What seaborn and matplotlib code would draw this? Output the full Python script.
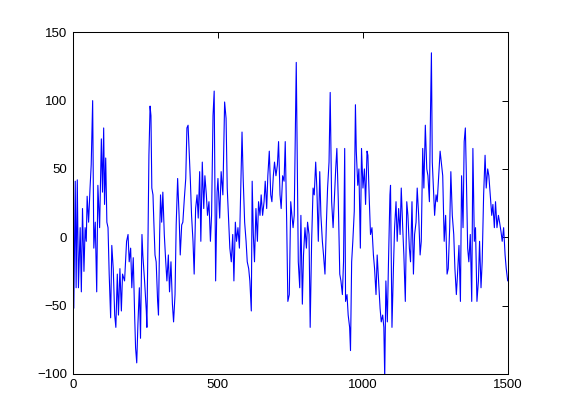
import numpy as np
import pandas as pd
import matplotlib
matplotlib.use("Agg")
import matplotlib.pyplot as plt
import seaborn as sns

# valores (amostra x, amplitude y)
x_seg1 = [3, 8, 11, 15, 19, 25, 29, 33, 38, 42, 46, 49, 54, 59, 63, 68, 72, 77, 82, 86,
          92, 98, 102, 106, 109, 113, 117, 121, 125, 130, 134, 139, 144, 148, 153, 157, 162, 167, 171, 178,
          185, 190, 194, 199, 203, 208, 213, 216, 220, 224, 229, 233, 238]
y_seg1 = [-52, 41, -37, 42, -37, 7, -40, 21, -25, 7, -3, 30, 11, 36, 53, 100, -8, 11, -40, 38,
          7, 72, 33, 80, 24, 58, 11, 7, -27, -59, -6, -23, -57, -66, -27, -57, -23, -54, -27, -32,
          -3, 2, -18, -8, -37, -15, -59, -81, -92, -64, -37, -74, 2]

x_seg2 = [241, 247, 253, 255, 259, 262, 266, 269, 272, 276, 279, 283, 287, 292, 295, 299, 302, 306, 310, 315,
          320, 324, 329, 333, 338, 343, 347, 352, 356, 361, 366, 370, 375, 379, 384, 389, 393, 397, 400, 405,
          409, 414, 418, 423, 428, 432, 437, 441, 446, 451, 455, 460, 464, 469, 474, 478, 483, 487, 492, 497]
y_seg2 = [-13, -32, -54, -66, 2, 60, 96, 89, 36, 31, 11, -13, -18, -47, -57, 2, 31, 11, 33, 2,
          -18, -32, -13, -40, -18, -49, -62, -42, 9, 43, 16, -13, 9, 11, 28, 43, 80, 82, 67, 41,
          16, -3, -27, 21, 31, 14, 48, -3, 55, 21, 45, 31, 16, 26, -3, 16, 89, 107, -32, 33]

x_seg3 = [500, 506, 511, 517, 523, 528, 532, 537, 541, 546, 551, 555, 560, 564, 569, 574, 578, 583, 587, 592,
          597, 601, 606, 610, 615, 618, 622, 626, 631, 636, 640, 645, 649, 654, 659, 663, 668, 672, 677, 682,
          686, 691, 695, 700, 705, 709, 714, 718, 723, 728, 732, 737, 741, 746, 751, 755]
y_seg3 = [43, 14, 48, 31, 99, 87, 36, 11, -8, -18, 2, -32, 11, -3, 7, -8, 31, 77, 43, 11,
          -3, -18, -23, -32, -54, 41, 2, -18, 21, -3, 26, 16, 31, 16, 26, 41, 21, 45, 63, 31,
          26, 45, 55, 45, 53, 70, 31, 21, 45, 41, 70, 11, -47, -42, 26, 16]

x_seg4 = [759, 763, 768, 770, 774, 777, 782, 786, 791, 795, 800, 805, 809, 814, 818, 823, 828, 832, 837, 841,
          846, 851, 855, 860, 864, 869, 874, 878, 883, 887, 892, 897, 901, 906, 910, 915, 920, 924, 929, 933,
          937, 940, 945, 949, 954, 957, 961, 965, 970, 974, 977, 982, 986, 991, 995, 1000, 1005, 1009, 1014]
y_seg4 = [7, 16, 92, 128, 48, -18, -37, 16, -49, -13, 7, -8, 11, 2, -66, -3, 36, 31, 55, 36,
          -3, 48, 16, -3, -13, -27, 11, 36, 55, 106, 26, 7, 26, 50, 65, 26, -27, -32, -42, -18,
          65, -47, -42, -57, -66, -83, -18, -3, 19, 97, 63, 38, 50, -8, 65, 36, 50, 24, 63]

x_seg5 = [1017, 1022, 1026, 1031, 1036, 1040, 1045, 1049, 1054, 1059, 1063, 1068, 1072, 1075, 1079, 1084, 1088, 1093, 1095, 1100,
          1105, 1109, 1114, 1118, 1123, 1128, 1132, 1137, 1141, 1146, 1151, 1155, 1160, 1164, 1169, 1174, 1178, 1183, 1187, 1192,
          1197, 1201, 1206, 1210, 1215, 1220, 1224, 1229, 1233, 1236, 1239, 1243, 1247, 1252, 1256, 1261, 1266, 1270, 1275]
y_seg5 = [60, 26, 2, 7, -13, -23, -42, -13, -32, -52, -62, -57, -66, -103, -32, -62, -18, 31, 38, -66,
          -23, 7, 26, -3, 21, 2, 36, 7, -13, -47, 26, 16, -8, -18, 26, -27, 2, 11, 36, 16,
          -13, -3, 65, 36, 82, 50, 45, 26, 94, 135, 55, 36, 16, 31, 26, 45, 63, 55, 45]

x_seg6 = [1280, 1285, 1290, 1294, 1299, 1303, 1308, 1313, 1317, 1322, 1326, 1331, 1336, 1340, 1345, 1349, 1353, 1356, 1361,
          1365, 1370, 1375, 1379, 1384, 1388, 1393, 1398, 1402, 1407, 1411, 1416, 1421, 1425, 1430, 1434, 1439, 1444, 1448, 1453,
          1457, 1462, 1467, 1471, 1476, 1480, 1485, 1490, 1494, 1499]
y_seg6 = [-3, 16, -27, -23, 7, 48, 16, 2, -23, -42, -27, -6, -47, 45, 7, 70, 80, 50, -8,
          -18, 2, -47, 65, -3, 7, -47, -32, -3, -37, -18, 31, 60, 36, 50, 45, 31, 16, 24, 7,
          26, 7, 16, 11, 4, -3, 7, -13, -23, -32]

x_ticks = [0, 500, 1000, 1500]
y_ticks = [-100, -50, 0, 50, 100, 150]

df = pd.DataFrame({
    "x": x_seg1 + x_seg2 + x_seg3 + x_seg4 + x_seg5 + x_seg6,
    "y": y_seg1 + y_seg2 + y_seg3 + y_seg4 + y_seg5 + y_seg6,
})

sns.set_style("white", {
    "xtick.direction": "in",
    "ytick.direction": "in",
    "axes.edgecolor": "black",
})
plt.rcParams["font.family"] = ["Liberation Sans", "DejaVu Sans"]

fig = plt.figure(figsize=(5.61, 4.2), dpi=100)
ax = fig.add_axes([0.13, 0.11, 0.7755, 0.813])

sns.lineplot(data=df, x="x", y="y", ax=ax, color=(0, 0, 1), linewidth=0.8,
             estimator=None, sort=False)

ax.set_xlim(0, 1500)
ax.set_ylim(-100, 150)
ax.set_xticks(x_ticks)
ax.set_yticks(y_ticks)
ax.set_xlabel("")
ax.set_ylabel("")
ax.tick_params(axis="both", which="both", direction="in", length=4, width=0.7,
               top=True, right=True, labelsize=9.5, pad=4, colors="black")
for s in ax.spines.values():
    s.set_visible(True)
    s.set_linewidth(0.75)
    s.set_color("black")

fig.savefig("out.png", dpi=100, facecolor="white")
